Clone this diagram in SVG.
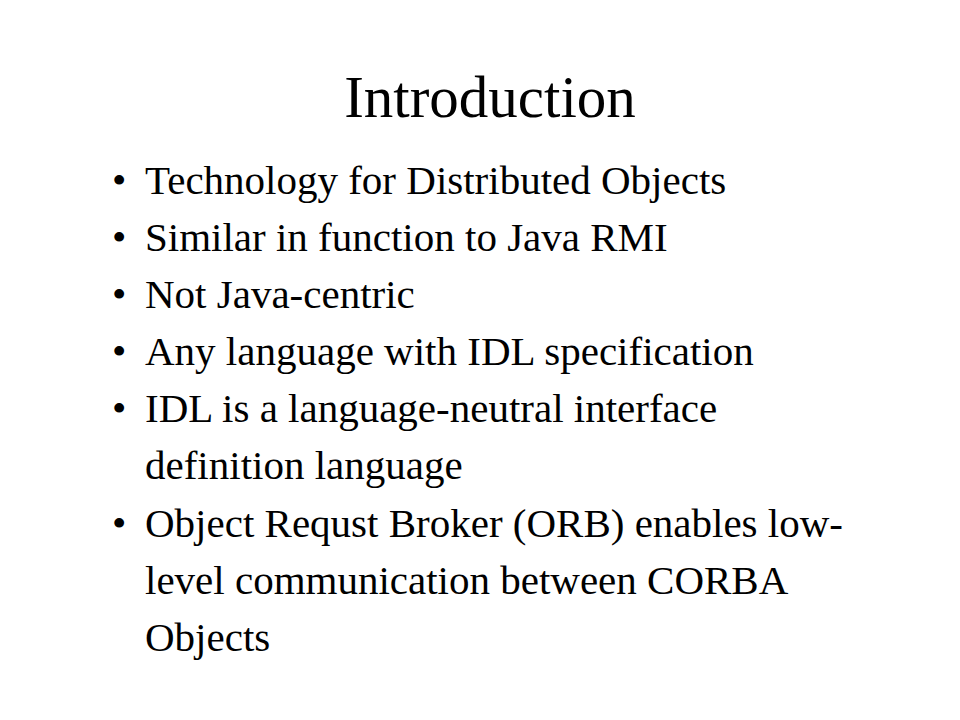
<svg xmlns="http://www.w3.org/2000/svg" width="960" height="720" viewBox="0 0 960 720">
<style>
text{font-family:"Liberation Serif","Times New Roman",serif;fill:#000}
.t{font-size:59px}
.b{font-size:41px}
</style>
<rect width="960" height="720" fill="#fff"/>
<g id="title"><text class="t" x="490" y="117" text-anchor="middle">Introduction</text></g>
<g id="bullets">
<text class="b" x="112" y="194">•</text><text class="b" x="145" y="194">Technology for Distributed Objects</text>
<text class="b" x="112" y="251">•</text><text class="b" x="145" y="251">Similar in function to Java RMI</text>
<text class="b" x="112" y="308">•</text><text class="b" x="145" y="308">Not Java-centric</text>
<text class="b" x="112" y="365">•</text><text class="b" x="145" y="365">Any language with IDL specification</text>
<text class="b" x="112" y="422">•</text><text class="b" x="145" y="422">IDL is a language-neutral interface</text>
<text class="b" x="145" y="479">definition language</text>
<text class="b" x="112" y="537">•</text><text class="b" x="145" y="537">Object Requst Broker (ORB) enables low-</text>
<text class="b" x="145" y="594">level communication between CORBA</text>
<text class="b" x="145" y="651">Objects</text>
</g>
</svg>
